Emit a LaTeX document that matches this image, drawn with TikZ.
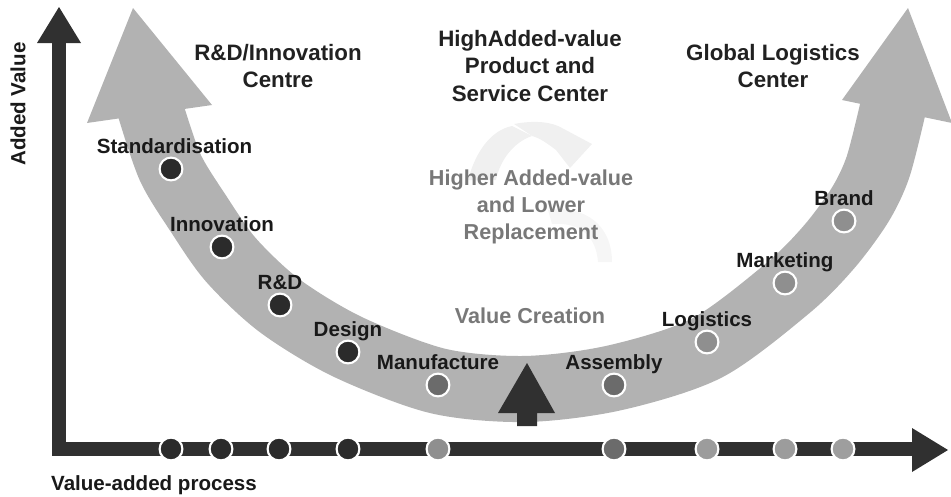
\documentclass[tikz,border=0pt]{standalone}
\usepackage{fontspec}
\setmainfont{Liberation Sans}
\usetikzlibrary{positioning}

\definecolor{axisdark}{gray}{0.19}
\definecolor{bandgray}{gray}{0.70}
\definecolor{dotdark}{gray}{0.17}
\definecolor{dotmid}{gray}{0.42}
\definecolor{dotlight}{gray}{0.56}
\definecolor{softtext}{gray}{0.47}
\definecolor{iconfaint}{gray}{0.94}

\tikzset{
  stage/.style={font=\fontsize{11.7}{14}\selectfont\bfseries, text=black!90,
    inner sep=0pt, text height=8.4pt, text depth=0pt},
  title/.style={font=\fontsize{12.7}{15.9}\selectfont\bfseries, text=black!87,
    align=center, inner sep=0pt},
  soft/.style={font=\fontsize{12.3}{15.6}\selectfont\bfseries, text=softtext,
    align=center, inner sep=0pt},
  dot/.style={circle, draw=white, line width=1.2pt, minimum size=13pt, inner sep=0pt},
}

\begin{document}
\begin{tikzpicture}[x=0.02cm, y=-0.02cm]
\useasboundingbox (0,0) rectangle (951,497);

% faint icon behind the middle text
\fill[iconfaint] (468,180) .. controls (476,150) and (492,130) .. (512,126)
  -- (532,136) .. controls (514,142) and (500,160) .. (496,180) -- cycle;
\fill[iconfaint] (514,124) .. controls (535,120) and (552,122) .. (562,128)
  -- (592,144) -- (570,168) -- (556,150) .. controls (548,144) and (540,138) .. (532,136) -- cycle;
\fill[iconfaint!60!white] (548,210) .. controls (585,205) and (612,225) .. (612,262)
  -- (598,262) .. controls (596,236) and (580,222) .. (552,224) -- cycle;

% U-shaped value band
\draw[bandgray, line width=37.6pt] plot[smooth, tension=0.5] coordinates {
  (150,108) (170,167) (198,213) (231,260) (280,306) (348,347) (438,381)
  (525,389) (614,378) (707,348) (788,288) (829,247) (860,205) (878,167) (893,108)};
\fill[bandgray] (133,8) -- (87,123) -- (212,105) -- cycle;
\fill[bandgray] (908,8) -- (842,100) -- (952,123) -- cycle;

% small up arrow
\fill[axisdark] (527,363) -- (555,413) -- (537,413) -- (537,426)
  -- (517,426) -- (517,413) -- (498,413) -- cycle;

% axes
\draw[axisdark, line width=8.5pt, miter limit=10] (59,43) -- (59,449) -- (912,449);
\fill[axisdark] (59,7) -- (81,43) -- (37,43) -- cycle;
\fill[axisdark] (948,450) -- (912,428) -- (912,472) -- cycle;
\node[stage, rotate=90] (yname) at (18,104) {Added Value};
\node[stage] (xname) at (154,483) {Value-added process};

% dots on the axis
\node[dot, fill=dotdark] (xstd) at (171,449) {};
\node[dot, fill=dotdark] (xinno) at (221,449) {};
\node[dot, fill=dotdark] (xrnd) at (279,449) {};
\node[dot, fill=dotdark] (xdesign) at (348,449) {};
\node[dot, fill=gray!88] (xmanu) at (438,449) {};
\node[dot, fill=dotmid] (xassem) at (614,449) {};
\node[dot, fill=gray!78] (xlogi) at (707,449) {};
\node[dot, fill=gray!78] (xmark) at (785,449) {};
\node[dot, fill=gray!76] (xbrand) at (843,449) {};

% dots on the band and their stages
\node[dot, fill=dotdark] (std) at (171,169) {};
\node[dot, fill=dotdark] (inno) at (222,247) {};
\node[dot, fill=dotdark] (rnd) at (280,305) {};
\node[dot, fill=dotdark] (design) at (348,352) {};
\node[dot, fill=dotmid] (manu) at (438,385) {};
\node[dot, fill=dotmid] (assem) at (614,385) {};
\node[dot, fill=dotlight] (logi) at (707,342) {};
\node[dot, fill=dotlight] (mark) at (785,283) {};
\node[dot, fill=dotlight] (brand) at (844,221) {};

\node[stage, above=1.8pt of std, xshift=2pt] (lstd) {Standardisation};
\node[stage, above=1.8pt of inno] (linno) {Innovation};
\node[stage, above=1.8pt of rnd] (lrnd) {R\&D};
\node[stage, above=1.8pt of design] (ldesign) {Design};
\node[stage, above=1.8pt of manu] (lmanu) {Manufacture};
\node[stage, above=1.8pt of assem] (lassem) {Assembly};
\node[stage, above=1.8pt of logi] (llogi) {Logistics};
\node[stage, above=1.8pt of mark] (lmark) {Marketing};
\node[stage, above=1.8pt of brand] (lbrand) {Brand};

% centre headings
\node[title] (rdcentre) at (278,66) {R\&D/Innovation\\Centre};
\node[title] (hvcentre) at (530,66) {HighAdded-value\\Product and\\Service Center};
\node[title] (glcentre) at (773,66) {Global Logistics\\Center};
\node[soft] (higher) at (531,207) {Higher Added-value\\and Lower\\Replacement};
\node[soft, text height=8.8pt, text depth=0pt] (creation) at (530,316) {Value Creation};
\end{tikzpicture}
\end{document}
